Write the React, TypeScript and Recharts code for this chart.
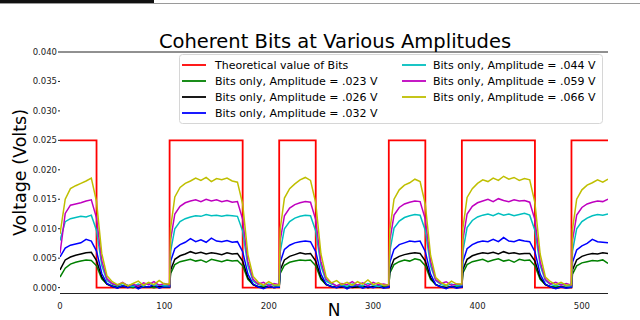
import { Legend, Line, LineChart, ReferenceLine, XAxis, YAxis } from "recharts";

const FONT = "'DejaVu Sans', Verdana, sans-serif";

// sample positions (N), grouped by bit: high, low, high, ...
const N = [
  0, 5, 10, 15, 20, 25, 30,
  35, 40, 45, 50, 55, 60, 65, 70, 75, 80, 85, 90, 95, 100,
  105, 106, 110, 115, 120, 125, 130, 135, 140, 145, 150, 155, 160, 165, 170,
  175, 180, 185, 190, 195, 200, 205,
  210, 211, 215, 220, 225, 230, 235, 240,
  245, 250, 255, 260, 265, 270, 275, 280, 285, 290, 295, 300, 305, 310,
  315, 316, 320, 325, 330, 335, 340, 345,
  350, 355, 360, 365, 370, 375, 380,
  385, 386, 390, 395, 400, 405, 410, 415, 420, 425, 430, 435, 440, 445, 450,
  455, 460, 465, 470, 475, 480, 485,
  490, 491, 495, 500, 505, 510, 515, 520, 525,
];

const green = [
  0.0018, 0.0033, 0.0040, 0.0043, 0.0045, 0.0047, 0.0046,
  0.0037, 0.0015, 0.0006, 0.0003, 0.0001, 0.0003, 0.0002, 0.0000, 0.0003, 0.0001, 0.0002, 0.0000, 0.0002, 0.0001,
  0.0001, 0.0024, 0.0039, 0.0044, 0.0046, 0.0048, 0.0045, 0.0047, 0.0043, 0.0048, 0.0046, 0.0044, 0.0047, 0.0045, 0.0046,
  0.0037, 0.0014, 0.0005, 0.0002, 0.0001, 0.0002, 0.0000,
  0.0001, 0.0024, 0.0038, 0.0043, 0.0045, 0.0047, 0.0046, 0.0047,
  0.0037, 0.0014, 0.0005, 0.0002, 0.0001, 0.0003, 0.0000, 0.0002, 0.0001, 0.0000, 0.0002, 0.0001, 0.0003, 0.0001,
  0.0001, 0.0025, 0.0039, 0.0044, 0.0047, 0.0045, 0.0049, 0.0047,
  0.0037, 0.0014, 0.0005, 0.0002, 0.0000, 0.0002, 0.0001,
  0.0001, 0.0025, 0.0039, 0.0044, 0.0046, 0.0048, 0.0044, 0.0047, 0.0049, 0.0045, 0.0047, 0.0043, 0.0048, 0.0046, 0.0047,
  0.0037, 0.0014, 0.0005, 0.0002, 0.0001, 0.0002, 0.0000,
  0.0001, 0.0023, 0.0037, 0.0042, 0.0044, 0.0046, 0.0045, 0.0047, 0.0041,
];

const black = [
  0.0030, 0.0047, 0.0052, 0.0055, 0.0057, 0.0059, 0.0060,
  0.0046, 0.0018, 0.0006, 0.0002, 0.0000, 0.0002, 0.0001, 0.0003, 0.0000, 0.0002, 0.0001, 0.0003, 0.0001, 0.0002,
  0.0001, 0.0030, 0.0048, 0.0054, 0.0057, 0.0061, 0.0058, 0.0060, 0.0057, 0.0059, 0.0058, 0.0056, 0.0059, 0.0057, 0.0058,
  0.0045, 0.0017, 0.0005, 0.0001, 0.0000, 0.0002, 0.0000,
  0.0001, 0.0030, 0.0047, 0.0053, 0.0056, 0.0059, 0.0057, 0.0058,
  0.0045, 0.0017, 0.0005, 0.0002, 0.0000, 0.0001, 0.0002, 0.0000, 0.0001, 0.0003, 0.0000, 0.0002, 0.0001, 0.0000,
  0.0000, 0.0030, 0.0048, 0.0053, 0.0056, 0.0058, 0.0059, 0.0058,
  0.0045, 0.0017, 0.0005, 0.0001, 0.0000, 0.0002, 0.0000,
  0.0001, 0.0031, 0.0048, 0.0054, 0.0057, 0.0059, 0.0058, 0.0060, 0.0057, 0.0061, 0.0058, 0.0059, 0.0057, 0.0058, 0.0058,
  0.0045, 0.0017, 0.0005, 0.0001, -0.0001, 0.0001, 0.0000,
  0.0000, 0.0030, 0.0047, 0.0053, 0.0056, 0.0058, 0.0057, 0.0059, 0.0058,
];

const blue = [
  0.0052, 0.0067, 0.0072, 0.0074, 0.0076, 0.0082, 0.0079,
  0.0062, 0.0024, 0.0007, 0.0002, -0.0001, 0.0003, 0.0000, 0.0004, -0.0002, 0.0002, 0.0001, 0.0005, -0.0001, 0.0002,
  0.0001, 0.0045, 0.0066, 0.0073, 0.0077, 0.0083, 0.0078, 0.0081, 0.0077, 0.0084, 0.0079, 0.0078, 0.0080, 0.0077, 0.0078,
  0.0061, 0.0023, 0.0006, 0.0001, -0.0002, 0.0002, 0.0000,
  0.0001, 0.0043, 0.0065, 0.0072, 0.0076, 0.0078, 0.0079, 0.0078,
  0.0061, 0.0023, 0.0006, 0.0002, 0.0000, 0.0003, -0.0002, 0.0002, 0.0004, -0.0001, 0.0002, 0.0000, 0.0003, -0.0001,
  0.0001, 0.0043, 0.0065, 0.0073, 0.0076, 0.0079, 0.0078, 0.0079,
  0.0061, 0.0023, 0.0005, 0.0001, -0.0002, 0.0002, -0.0001,
  0.0001, 0.0044, 0.0066, 0.0073, 0.0077, 0.0079, 0.0078, 0.0082, 0.0078, 0.0085, 0.0079, 0.0078, 0.0081, 0.0079, 0.0078,
  0.0061, 0.0023, 0.0006, 0.0001, -0.0002, 0.0001, -0.0001,
  0.0001, 0.0043, 0.0064, 0.0071, 0.0075, 0.0082, 0.0078, 0.0077, 0.0076,
];

const cyan = [
  0.0080, 0.0112, 0.0117, 0.0119, 0.0121, 0.0120, 0.0123,
  0.0097, 0.0038, 0.0012, 0.0006, 0.0003, 0.0007, 0.0004, 0.0002, 0.0006, 0.0003, 0.0008, 0.0004, 0.0005, 0.0003,
  0.0003, 0.0062, 0.0100, 0.0112, 0.0117, 0.0120, 0.0122, 0.0121, 0.0124, 0.0122, 0.0123, 0.0121, 0.0123, 0.0122, 0.0121,
  0.0096, 0.0037, 0.0011, 0.0005, 0.0003, 0.0006, 0.0004,
  0.0003, 0.0061, 0.0100, 0.0112, 0.0118, 0.0121, 0.0123, 0.0122,
  0.0096, 0.0037, 0.0011, 0.0006, 0.0003, 0.0005, 0.0002, 0.0006, 0.0004, 0.0003, 0.0007, 0.0004, 0.0002, 0.0005,
  0.0004, 0.0062, 0.0101, 0.0113, 0.0119, 0.0122, 0.0124, 0.0123,
  0.0097, 0.0037, 0.0012, 0.0005, 0.0003, 0.0006, 0.0003,
  0.0004, 0.0062, 0.0102, 0.0114, 0.0120, 0.0123, 0.0125, 0.0122, 0.0126, 0.0123, 0.0125, 0.0122, 0.0124, 0.0126, 0.0123,
  0.0097, 0.0038, 0.0012, 0.0005, 0.0003, 0.0006, 0.0003,
  0.0003, 0.0062, 0.0100, 0.0112, 0.0118, 0.0122, 0.0124, 0.0123, 0.0125,
];

const magenta = [
  0.0058, 0.0126, 0.0140, 0.0142, 0.0144, 0.0147, 0.0149,
  0.0118, 0.0046, 0.0015, 0.0007, 0.0004, 0.0009, 0.0003, 0.0006, 0.0002, 0.0008, 0.0005, 0.0010, 0.0004, 0.0007,
  0.0004, 0.0082, 0.0125, 0.0138, 0.0144, 0.0147, 0.0149, 0.0146, 0.0150, 0.0147, 0.0149, 0.0146, 0.0148, 0.0145, 0.0146,
  0.0116, 0.0044, 0.0014, 0.0006, 0.0009, 0.0003, 0.0007,
  0.0005, 0.0080, 0.0122, 0.0135, 0.0141, 0.0144, 0.0146, 0.0145,
  0.0115, 0.0044, 0.0014, 0.0008, 0.0003, 0.0007, 0.0005, 0.0010, 0.0004, 0.0008, 0.0003, 0.0009, 0.0005, 0.0006,
  0.0004, 0.0080, 0.0123, 0.0136, 0.0142, 0.0145, 0.0147, 0.0146,
  0.0116, 0.0045, 0.0013, 0.0007, 0.0010, 0.0004, 0.0006,
  0.0005, 0.0081, 0.0125, 0.0138, 0.0144, 0.0147, 0.0150, 0.0146, 0.0151, 0.0148, 0.0146, 0.0149, 0.0147, 0.0148, 0.0145,
  0.0115, 0.0044, 0.0014, 0.0006, 0.0009, 0.0004, 0.0007,
  0.0004, 0.0080, 0.0123, 0.0136, 0.0142, 0.0145, 0.0147, 0.0146, 0.0150,
];

const yellow = [
  0.0091, 0.0150, 0.0168, 0.0173, 0.0177, 0.0181, 0.0186,
  0.0146, 0.0058, 0.0020, 0.0010, 0.0005, 0.0008, 0.0003, 0.0007, 0.0011, 0.0004, 0.0009, 0.0005, 0.0012, 0.0006,
  0.0006, 0.0102, 0.0154, 0.0170, 0.0177, 0.0181, 0.0186, 0.0182, 0.0187, 0.0180, 0.0185, 0.0183, 0.0186, 0.0181, 0.0179,
  0.0142, 0.0056, 0.0019, 0.0009, 0.0004, 0.0010, 0.0005,
  0.0004, 0.0100, 0.0152, 0.0168, 0.0176, 0.0183, 0.0187, 0.0182,
  0.0144, 0.0057, 0.0018, 0.0008, 0.0012, 0.0005, 0.0009, 0.0004, 0.0010, 0.0006, 0.0013, 0.0005, 0.0008, 0.0004,
  0.0005, 0.0098, 0.0150, 0.0166, 0.0174, 0.0178, 0.0184, 0.0180,
  0.0141, 0.0055, 0.0017, 0.0009, 0.0004, 0.0011, 0.0006,
  0.0006, 0.0101, 0.0153, 0.0168, 0.0177, 0.0183, 0.0180, 0.0186, 0.0182, 0.0189, 0.0184, 0.0187, 0.0182, 0.0185, 0.0183,
  0.0144, 0.0057, 0.0018, 0.0010, 0.0005, 0.0009, 0.0004,
  0.0005, 0.0099, 0.0150, 0.0166, 0.0174, 0.0178, 0.0183, 0.0179, 0.0184,
];

// theoretical square wave: edges and levels
const bitEdges = [0, 35, 105, 175, 210, 245, 315, 350, 385, 455, 490, 525];
const bitLevels = [0.025, 0, 0.025, 0, 0.025, 0, 0.025, 0, 0.025, 0, 0.025, 0.025];

const yTicks = [0, 0.005, 0.01, 0.015, 0.02, 0.025, 0.03, 0.035, 0.04];
const xTicks = [0, 100, 200, 300, 400, 500];

const BITS_NAME = "Theoretical value of Bits";

const series = [
  { key: "green", name: "Bits only, Amplitude = .023 V", color: "#008000" },
  { key: "black", name: "Bits only, Amplitude = .026 V", color: "#000000" },
  { key: "blue", name: "Bits only, Amplitude = .032 V", color: "#0000ff" },
  { key: "cyan", name: "Bits only, Amplitude = .044 V", color: "#00bfbf" },
  { key: "magenta", name: "Bits only, Amplitude = .059 V", color: "#bf00bf" },
  { key: "yellow", name: "Bits only, Amplitude = .066 V", color: "#bfbf00" },
];

const legendOrder = [BITS_NAME, ...series.map((s) => s.name)];

const rows = N.map((n, i) => ({
  n,
  green: green[i],
  black: black[i],
  blue: blue[i],
  cyan: cyan[i],
  magenta: magenta[i],
  yellow: yellow[i],
}));

const bitRows = bitEdges.map((n, i) => ({ n, bits: bitLevels[i] }));

function LegendBox({ payload }: any) {
  const items = [...(payload || [])].sort(
    (a: any, b: any) => legendOrder.indexOf(a.value) - legendOrder.indexOf(b.value)
  );
  return (
    <svg width={424} height={70} style={{ display: "block" }}>
      <rect x={0.5} y={0.5} width={423} height={69} rx={3} fill="#fff" fillOpacity={0.8} stroke="#d6d6d6" />
      {items.map((p: any, i: number) => {
        const col = i < 4 ? 0 : 1;
        const row = i < 4 ? i : i - 4;
        const lx = col === 0 ? 3 : 223;
        const tx = col === 0 ? 36 : 254;
        const cy = 11 + row * 16;
        return (
          <g key={p.value}>
            <line x1={lx} x2={lx + 24} y1={cy} y2={cy} stroke={p.color} strokeWidth={1.8} />
            <text x={tx} y={cy + 4} fontFamily={FONT} fontSize={11} fill="#000">
              {p.value}
            </text>
          </g>
        );
      })}
    </svg>
  );
}

export default function App() {
  const tickStyle = { fontSize: 8.5, fontFamily: FONT, fill: "#222" };
  return (
    <div style={{ position: "absolute", left: 0, top: 0, width: 640, height: 320, background: "#fff" }}>
      <div style={{ position: "absolute", left: 0, top: 3, width: 640, height: 1, background: "#9a9a9a" }} />
      <div style={{ position: "absolute", left: 0, top: 0, width: 154, height: 3, background: "#111" }} />
      <LineChart width={640} height={320} data={rows} margin={{ top: 52, right: 32, bottom: 0, left: 0 }}>
        <XAxis
          dataKey="n"
          type="number"
          domain={[0, 525]}
          ticks={xTicks}
          axisLine={{ stroke: "#222" }}
          tickLine={false}
          tickMargin={3}
          tick={tickStyle}
          height={26.5}
          allowDataOverflow
        />
        <YAxis
          type="number"
          domain={[-0.001, 0.04]}
          ticks={yTicks}
          tickFormatter={(v: number) => v.toFixed(3)}
          axisLine={false}
          tickSize={2}
          tickMargin={1}
          tickLine={{ stroke: "#222" }}
          tick={tickStyle}
          width={60}
          allowDataOverflow
        />
        <ReferenceLine y={0.04} stroke="#222" strokeWidth={1} />
        <Legend
          layout="vertical"
          align="center"
          verticalAlign="middle"
          content={LegendBox}
          wrapperStyle={{ left: 179, top: 54, width: 424, height: 70 }}
        />
        <Line
          data={bitRows}
          dataKey="bits"
          name={BITS_NAME}
          type="stepAfter"
          stroke="#ff0000"
          strokeWidth={1.8}
          dot={false}
          isAnimationActive={false}
        />
        {series.map((s) => (
          <Line
            key={s.key}
            dataKey={s.key}
            name={s.name}
            type="linear"
            stroke={s.color}
            strokeWidth={1.5}
            dot={false}
            isAnimationActive={false}
          />
        ))}
      </LineChart>
      <svg width={640} height={320} style={{ position: "absolute", left: 0, top: 0, pointerEvents: "none" }}>
        <text x={335} y={47.5} textAnchor="middle" fontFamily={FONT} fontSize={19.5} fill="#000">
          Coherent Bits at Various Amplitudes
        </text>
        <text
          transform="translate(25.5,172.5) rotate(-90)"
          textAnchor="middle"
          fontFamily={FONT}
          fontSize={17.5}
          fill="#000"
        >
          Voltage (Volts)
        </text>
        <text x={334} y={316} textAnchor="middle" fontFamily={FONT} fontSize={17} fill="#000">
          N
        </text>
      </svg>
    </div>
  );
}
